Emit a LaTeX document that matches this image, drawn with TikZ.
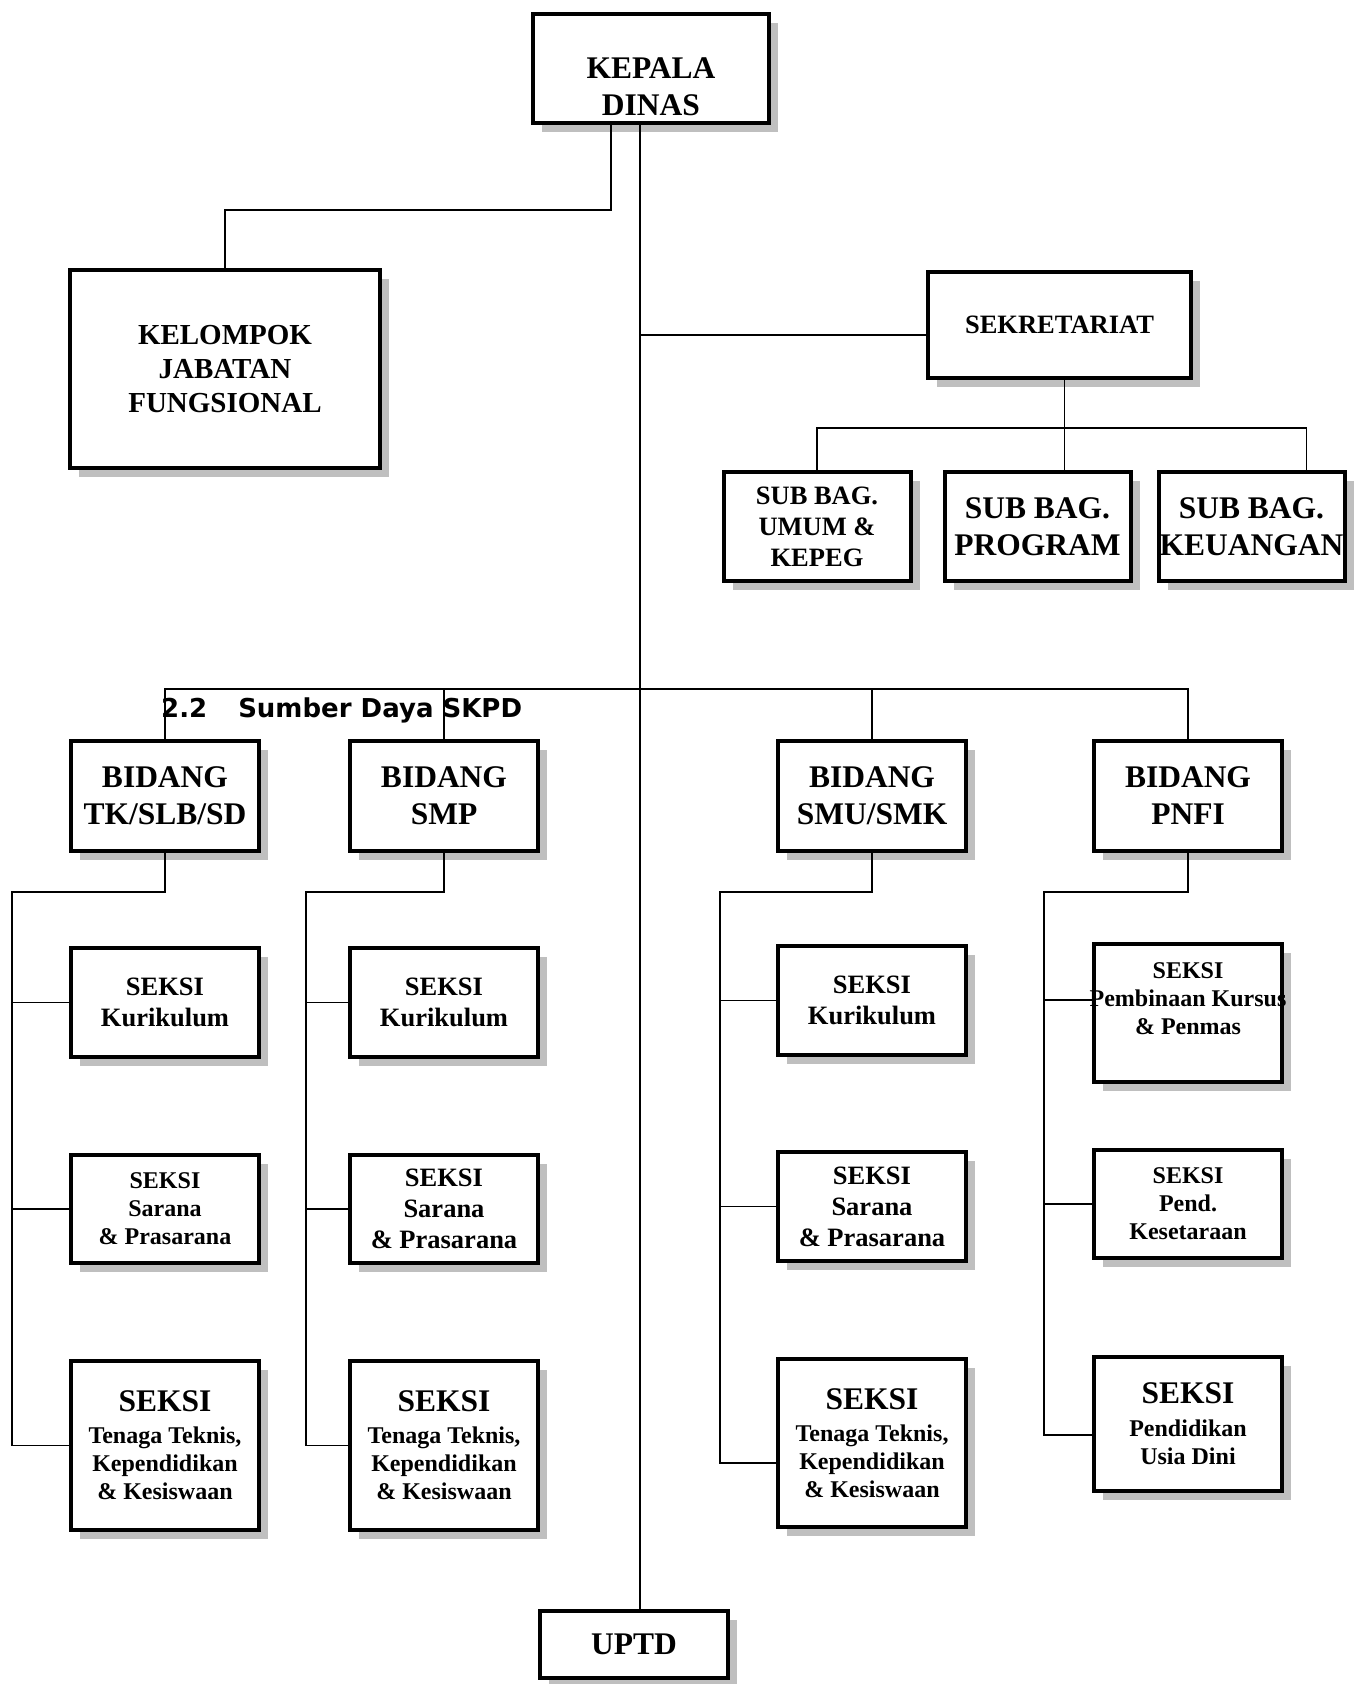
\documentclass[tikz,border=0pt]{standalone}
\usepackage{fontspec}
\setmainfont{Liberation Serif}
\newfontfamily\skpdfont{DejaVu Sans}
\usetikzlibrary{shapes}
\usetikzlibrary{positioning}
\usetikzlibrary{shadows}

\tikzset{
  kotak/.style={draw, line width=4pt, fill=white, align=center, inner sep=1pt, minimum width=188pt,
    drop shadow={shadow xshift=9pt, shadow yshift=-9pt, fill=black!25, opacity=1}},
  besar/.style={font=\fontsize{31.5}{37}\selectfont\bfseries},
  sedang/.style={font=\fontsize{26.5}{31}\selectfont\bfseries},
  kecil/.style={font=\fontsize{24}{28}\selectfont\bfseries},
  garis/.style={line width=1.8pt},
}

\begin{document}
\begin{tikzpicture}[x=1pt, y=-1pt]
    \useasboundingbox (0,0) rectangle (1360,1684);

    % kepala dan staf
    \node(kepala)[kotak, besar, minimum width=236pt, minimum height=109pt] at (651,68.5) {\mbox{}\\[20pt]KEPALA\\DINAS};
    \node(kelompok)[kotak, font=\fontsize{29}{34}\selectfont\bfseries, minimum width=310pt, minimum height=198pt, below left=143pt and 149pt of kepala]{KELOMPOK\\JABATAN\\FUNGSIONAL};
    \node(sekretariat)[kotak, sedang, minimum width=263pt, minimum height=106pt, below right=145pt and 155pt of kepala]{SEKRETARIAT};

    \node(program)[kotak, besar, minimum width=186pt, minimum height=109pt, below=90pt of sekretariat, xshift=-22pt]{SUB BAG.\\PROGRAM};
    \node(umum)[kotak, sedang, minimum width=187pt, minimum height=109pt, left=30pt of program]{SUB BAG.\\UMUM \&\\KEPEG};
    \node(keuangan)[kotak, besar, minimum width=186pt, minimum height=109pt, right=24pt of program]{SUB BAG.\\KEUANGAN};

    % bidang
    \node(tk)[kotak, besar, minimum height=110pt] at (165,796) {BIDANG\\TK/SLB/SD};
    \node(smp)[kotak, besar, minimum height=110pt, right=87pt of tk]{BIDANG\\SMP};
    \node(smu)[kotak, besar, minimum height=110pt, right=236pt of smp]{BIDANG\\SMU/SMK};
    \node(pnfi)[kotak, besar, minimum height=110pt, right=124pt of smu]{BIDANG\\PNFI};

    \node(sumber)[anchor=base west, inner sep=0pt, font=\skpdfont\bfseries\fontsize{26}{30}\selectfont] at (161,717) {2.2\hspace{31pt}Sumber Daya SKPD};

    % seksi
    \node(tkkur)[kotak, sedang, minimum height=109pt, below=93pt of tk]{SEKSI\\Kurikulum};
    \node(tksar)[kotak, kecil, minimum height=108pt, below=94pt of tkkur]{SEKSI\\Sarana\\\& Prasarana};
    \node(tkten)[kotak, kecil, minimum height=169pt, below=94pt of tksar]{{\fontsize{31.5}{37}\selectfont SEKSI}\\[4pt]Tenaga Teknis,\\Kependidikan\\\& Kesiswaan};

    \node(smpkur)[kotak, sedang, minimum height=109pt, below=93pt of smp]{SEKSI\\Kurikulum};
    \node(smpsar)[kotak, sedang, minimum height=108pt, below=94pt of smpkur]{SEKSI\\Sarana\\\& Prasarana};
    \node(smpten)[kotak, kecil, minimum height=169pt, below=94pt of smpsar]{{\fontsize{31.5}{37}\selectfont SEKSI}\\[4pt]Tenaga Teknis,\\Kependidikan\\\& Kesiswaan};

    \node(smukur)[kotak, sedang, minimum height=109pt, below=91pt of smu]{SEKSI\\Kurikulum};
    \node(smusar)[kotak, sedang, minimum height=109pt, below=93pt of smukur]{SEKSI\\Sarana\\\& Prasarana};
    \node(smuten)[kotak, kecil, minimum height=168pt, below=94pt of smusar]{{\fontsize{31.5}{37}\selectfont SEKSI}\\[4pt]Tenaga Teknis,\\Kependidikan\\\& Kesiswaan};

    \node(pnfipem)[kotak, kecil, minimum height=138pt, below=89pt of pnfi]{SEKSI\\\makebox[170pt]{Pembinaan Kursus}\\\& Penmas\\\mbox{}};
    \node(pnfikes)[kotak, kecil, minimum height=108pt, below=64pt of pnfipem]{SEKSI\\Pend.\\Kesetaraan};
    \node(pnfidini)[kotak, kecil, minimum height=134pt, below=95pt of pnfikes]{{\fontsize{31.5}{37}\selectfont SEKSI}\\[5pt]Pendidikan\\Usia Dini};

    \node(uptd)[kotak, besar, minimum height=67pt] at (634,1644.5) {UPTD};

    % garis
    \coordinate(trunk) at ([xshift=-11pt]kepala.south);
    \draw[garis] (trunk) -- (trunk |- uptd.north);
    \draw[garis] ([xshift=-40pt]kepala.south) -- ++(0,85) -| (kelompok.north);
    \draw[garis] ([yshift=-10pt]sekretariat.west) coordinate(sekkiri) -- (sekkiri -| trunk);
    \draw[garis] ([xshift=5pt]sekretariat.south) -- ++(0,90);
    \draw[garis] (umum.north) -- ++(0,-42) -| ([xshift=55pt]keuangan.north);

    \draw[garis] (tk.north) -- ++(0,-50) -| (pnfi.north);
    \draw[garis] (smp.north) -- ++(0,-50);
    \draw[garis] (smu.north) -- ++(0,-50);

    \draw[garis] (tk.south) -- ++(0,39) -| ([xshift=-57pt]tkten.west) -- (tkten.west);
    \draw[garis] (tkkur.west) -- ++(-57,0);
    \draw[garis] (tksar.west) -- ++(-57,0);

    \draw[garis] (smp.south) -- ++(0,39) -| ([xshift=-42pt]smpten.west) -- (smpten.west);
    \draw[garis] (smpkur.west) -- ++(-42,0);
    \draw[garis] (smpsar.west) -- ++(-42,0);

    \draw[garis] (smu.south) -- ++(0,39) -| ([xshift=-56pt,yshift=-20pt]smuten.west) -- ([yshift=-20pt]smuten.west);
    \draw[garis] (smukur.west) -- ++(-56,0);
    \draw[garis] (smusar.west) -- ++(-56,0);

    \draw[garis] (pnfi.south) -- ++(0,39) -| ([xshift=-48pt,yshift=-11pt]pnfidini.west) -- ([yshift=-11pt]pnfidini.west);
    \draw[garis] ([yshift=13pt]pnfipem.west) -- ++(-48,0);
    \draw[garis] (pnfikes.west) -- ++(-48,0);

\end{tikzpicture}
\end{document}
